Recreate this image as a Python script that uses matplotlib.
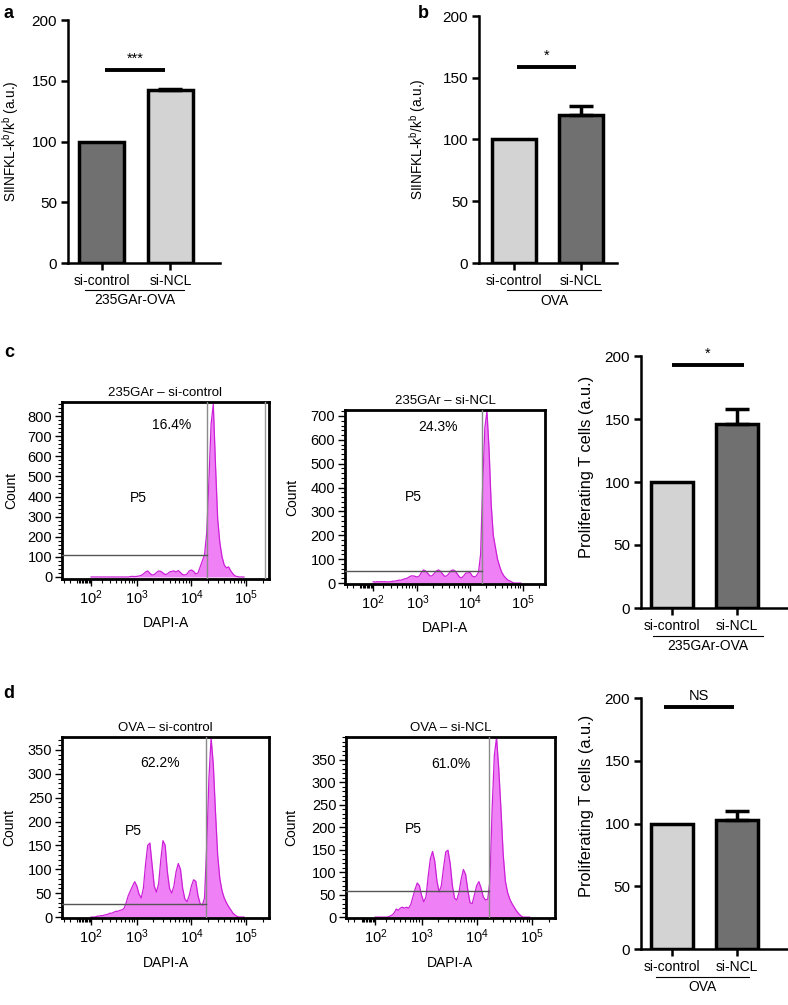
import numpy as np
import matplotlib
matplotlib.use("Agg")
import matplotlib.pyplot as plt

plt.rcParams['font.family'] = ['Liberation Sans', 'DejaVu Sans']
plt.rcParams['mathtext.fontset'] = 'custom'
plt.rcParams['mathtext.rm'] = 'Liberation Sans'
plt.rcParams['mathtext.it'] = 'Liberation Sans:italic'
plt.rcParams['mathtext.bf'] = 'Liberation Sans:bold'

W, H = 788, 1005

# ---- bar chart data ----
groups = ["si-control", "si-NCL"]
a_vals, a_errs = [100, 142], [0, 1.5]
b_vals, b_errs = [100, 120], [0, 7]
c_vals, c_errs = [100, 146], [0, 12]
d_vals, d_errs = [100, 103], [0, 7]

DARK = "#707070"
LIGHT = "#d3d3d3"

# ---- flow histograms (log10 DAPI-A grid, counts) ----
log_dapi = np.round(np.arange(2.0, 4.97, 0.04), 2)

hist_c_ctrl = [0, 0, 0, 0, 0, 0, 0, 0, 0, 0, 0, 0, 0, 0, 0, 0, 0, 0, 0, 0, 0, 0, 2, 3, 2,
               3, 5, 8, 15, 25, 30, 18, 10, 12, 22, 30, 28, 20, 12, 15, 25, 28, 30, 25, 32, 22, 12, 10, 15, 30,
               35, 28, 15, 20, 50, 80, 110, 220, 480, 760, 860, 560, 290, 170, 100, 60, 45, 50, 30, 15, 5, 2, 0, 0, 0]

hist_c_ncl = [5, 5, 4, 6, 5, 5, 6, 5, 6, 5, 5, 5, 6, 8, 8, 10, 12, 12, 15, 18, 20, 25, 30, 30, 28,
              25, 30, 45, 55, 50, 40, 30, 30, 40, 50, 55, 50, 38, 28, 30, 40, 52, 55, 50, 38, 25, 22, 30, 42, 42,
              45, 30, 25, 30, 45, 120, 420, 650, 720, 560, 330, 200, 150, 100, 70, 45, 30, 20, 12, 8, 3, 0, 0, 0, 0]

hist_d_ctrl = [0, 0, 0, 0, 1, 2, 2, 3, 3, 4, 5, 6, 8, 8, 10, 12, 12, 14, 15, 18, 30, 45, 55, 65, 74,
               65, 48, 40, 60, 110, 150, 155, 110, 65, 52, 70, 120, 160, 150, 95, 60, 50, 65, 95, 112, 100, 60, 38, 32, 45,
               65, 78, 75, 45, 28, 25, 40, 150, 290, 375, 320, 220, 130, 80, 55, 40, 30, 22, 15, 8, 4, 1, 0, 0, 0]

hist_d_ncl = [0, 0, 0, 0, 0, 0, 0, 0, 0, 1, 3, 5, 10, 18, 15, 20, 22, 20, 22, 20, 28, 45, 62, 76, 70,
              48, 34, 45, 90, 130, 146, 125, 80, 56, 70, 110, 145, 149, 120, 70, 42, 38, 55, 85, 106, 95, 60, 32, 30, 50,
              70, 79, 65, 45, 38, 40, 80, 240, 360, 400, 330, 240, 140, 80, 55, 40, 30, 22, 14, 8, 3, 0, 0, 0, 0]

W_LOGICLE = 165.0
XMIN, XMAX = -115, 262144


def add_axes(left, top, right, bottom):
    return fig.add_axes([left / W, 1 - bottom / H, (right - left) / W, (bottom - top) / H])


def fwd(x):
    return np.arcsinh(np.asarray(x, dtype=float) / W_LOGICLE)


def inv(y):
    return W_LOGICLE * np.sinh(np.asarray(y, dtype=float))


fig = plt.figure(figsize=(W / 100, H / 100), dpi=100)

ax_a = add_axes(68, 20, 220, 263)
ax_b = add_axes(479, 16, 617, 263)
ax_cb = add_axes(641, 356, 788, 608)
ax_db = add_axes(641, 698, 788, 949)

siinfkl = "SIINFKL-k$^{\\mathrm{b}}$/k$^{\\mathrm{b}}$ (a.u.)"
prolif = "Proliferating T cells (a.u.)"

# ax, values, errors, colours, ylabel, label size, label coords, sig text, sig y, sig span,
# group label, group span, xlim
bar_specs = [
    (ax_a, a_vals, a_errs, [DARK, LIGHT], siinfkl, 9.8, (-0.31, 0.5),
     "***", 159, (0.05, 0.92), "235GAr-OVA", (-0.25, 1.2), (-0.49, 1.72)),
    (ax_b, b_vals, b_errs, [LIGHT, DARK], siinfkl, 9.8, (-0.37, 0.5),
     "*", 159, (0.05, 0.93), "OVA", (-0.1, 1.3), (-0.52, 1.54)),
    (ax_cb, c_vals, c_errs, [LIGHT, DARK], prolif, 11.8, (-0.32, 0.56),
     "*", 193, (0.0, 1.1), "235GAr-OVA", (-0.3, 1.4), (-0.48, 1.78)),
    (ax_db, d_vals, d_errs, [LIGHT, DARK], prolif, 11.8, (-0.32, 0.57),
     "NS", 193, (-0.12, 0.95), "OVA", (-0.25, 1.18), (-0.48, 1.78)),
]

for (ax, vals, errs, colors, ylabel, ylsize, ylpos, sig, sig_y, sig_span,
     glabel, gspan, xlim) in bar_specs:
    x = np.arange(len(groups))
    ax.bar(x, vals, width=0.65, color=colors, edgecolor="black", linewidth=2.5, zorder=2)
    ax.errorbar(x[1], vals[1], yerr=[[0], [errs[1]]], fmt="none", ecolor="black",
                elinewidth=2.5, capsize=8.5, capthick=2.5, zorder=3)
    ax.set_xlim(*xlim)
    ax.set_ylim(0, 200)
    ax.set_yticks([0, 50, 100, 150, 200])
    ax.set_xticks(x)
    ax.set_xticklabels(groups)
    for s in ["top", "right"]:
        ax.spines[s].set_visible(False)
    for s in ["left", "bottom"]:
        ax.spines[s].set_linewidth(1.8)
    ax.tick_params(width=1.8, length=5, pad=3)
    ax.tick_params(axis="y", labelsize=11)
    ax.tick_params(axis="x", labelsize=10)
    ax.set_ylabel(ylabel, fontsize=ylsize)
    ax.yaxis.set_label_coords(*ylpos)
    ax.plot(sig_span, [sig_y, sig_y], color="black", lw=2.8, clip_on=False, solid_capstyle="butt")
    ax.text(np.mean(sig_span), sig_y + 3, sig, ha="center", va="bottom", fontsize=10.5)
    tr = ax.get_xaxis_transform()
    ax.plot(gspan, [-0.11, -0.11], color="black", lw=0.8, transform=tr, clip_on=False)
    ax.text(np.mean(gspan), -0.125, glabel, ha="center", va="top", fontsize=10, transform=tr)

# ---- flow histograms ----
hist_specs = [
    ((62, 402, 269, 579), hist_c_ctrl, (-10, 870), 100, 20, 19000, 110, "16.4%", (0.53, 0.87),
     (0.367, 0.46), "235GAr \u2013 si-control", 220000, -0.21, 6),
    ((345, 410, 545, 584), hist_c_ncl, (-4, 725), 100, 20, 16500, 50, "24.3%", (0.465, 0.905),
     (0.34, 0.5), "235GAr \u2013 si-NCL", None, -0.23, 6),
    ((62, 737, 269, 918), hist_d_ctrl, (-2, 377), 50, 10, 18700, 28, "62.2%", (0.473, 0.856),
     (0.343, 0.48), "OVA \u2013 si-control", None, -0.22, 7),
    ((346, 737, 555, 918), hist_d_ncl, (-2, 401), 50, 10, 16500, 58, "61.0%", (0.50, 0.85),
     (0.32, 0.49), "OVA \u2013 si-NCL", None, -0.23, 7),
]

major_x = [1e2, 1e3, 1e4, 1e5]
minor_x = [k * 10.0 ** e for e in range(1, 5) for k in range(2, 10)] + [0, 10, -50, -100, 2e5]

for (box, counts, ylim, ystep, yminor, gate_x, gate_y, pct, pct_pos, p5_pos, title, extra,
     ylab_x, xlab_pad) in hist_specs:
    ax = add_axes(*box)
    ax.set_xscale("function", functions=(fwd, inv))
    xs = 10.0 ** log_dapi
    ax.fill_between(xs, counts, 0, color="#f080f5", lw=0, zorder=1)
    ax.plot(xs, counts, color="#cc1fd8", lw=0.9, zorder=2)
    ax.set_xlim(XMIN, XMAX)
    ax.set_ylim(*ylim)
    ax.axvline(gate_x, color="#8a8a8a", lw=1.0, zorder=3)
    ax.plot([XMIN, gate_x], [gate_y, gate_y], color="#555555", lw=1.0, zorder=3)
    if extra is not None:
        ax.axvline(extra, color="#9a9a9a", lw=1.0, zorder=3)
    ax.set_xticks(major_x)
    ax.set_xticklabels(["$10^{2}$", "$10^{3}$", "$10^{4}$", "$10^{5}$"])
    ax.set_xticks([m for m in minor_x if XMIN < m < XMAX], minor=True)
    ax.set_yticks(np.arange(0, ylim[1] - 10, ystep))
    ax.set_yticks(np.arange(0, ylim[1], yminor), minor=True)
    for s in ax.spines.values():
        s.set_linewidth(2.0)
    ax.tick_params(which="major", length=5, width=1.0, labelsize=10.5, pad=2)
    ax.tick_params(which="minor", length=3, width=0.8)
    ax.set_ylabel("Count", fontsize=10)
    ax.yaxis.set_label_coords(ylab_x, 0.5)
    ax.set_xlabel("DAPI-A", fontsize=10, labelpad=xlab_pad)
    ax.set_title(title, fontsize=9.5, pad=4)
    ax.text(pct_pos[0], pct_pos[1], pct, transform=ax.transAxes, ha="center", va="center", fontsize=10)
    ax.text(p5_pos[0], p5_pos[1], "P5", transform=ax.transAxes, ha="center", va="center", fontsize=10)

# panel letters
for letter, (px, py) in {"a": (9, 14), "b": (423, 14), "c": (9, 352), "d": (9, 693)}.items():
    fig.text(px / W, 1 - py / H, letter, fontsize=13, fontweight="bold", ha="center", va="center")

fig.savefig("out.png", dpi=100)
